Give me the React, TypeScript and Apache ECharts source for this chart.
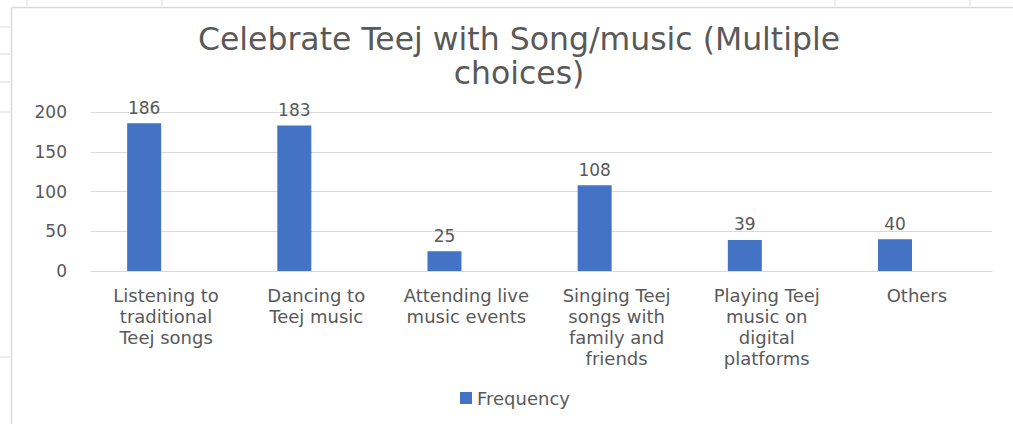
import React, { useEffect, useRef } from "react";
import * as echarts from "echarts";

const titleText = "Celebrate Teej with Song/music (Multiple\nchoices)";
const categories = [
  "Listening to\ntraditional\nTeej songs",
  "Dancing to\nTeej music",
  "Attending live\nmusic events",
  "Singing Teej\nsongs with\nfamily and\nfriends",
  "Playing Teej\nmusic on\ndigital\nplatforms",
  "Others",
];
const frequency = [186, 183, 25, 108, 39, 40];
const yTicks = { min: 0, max: 200, interval: 50 };

const FONT = "DejaVu Sans";
const TXT = "#595959";

export default function App() {
  const ref = useRef<HTMLDivElement>(null);
  useEffect(() => {
    if (!ref.current) return;
    const chart = echarts.init(ref.current, undefined, { renderer: "svg" });
    const stubs: any[] = [];
    [27, 54, 82, 112, 357].forEach((y) =>
      stubs.push({ type: "line", shape: { x1: 0, y1: y, x2: 10, y2: y }, style: { stroke: "#dcdcdc", lineWidth: 1 } })
    );
    [27, 162, 835, 970].forEach((x) =>
      stubs.push({ type: "line", shape: { x1: x, y1: 0, x2: x, y2: 6 }, style: { stroke: "#dcdcdc", lineWidth: 1 } })
    );
    chart.setOption({
      animation: false,
      backgroundColor: "#ffffff",
      textStyle: { fontFamily: FONT },
      graphic: [
        ...stubs,
        { type: "line", shape: { x1: 11.5, y1: 7.5, x2: 1013, y2: 7.5 }, style: { stroke: "#d9d9d9", lineWidth: 1.5 } },
        { type: "line", shape: { x1: 11.5, y1: 7.5, x2: 11.5, y2: 424 }, style: { stroke: "#d9d9d9", lineWidth: 1.5 } },
      ],
      title: {
        text: titleText,
        left: 514,
        top: 17,
        textAlign: "center",
        textStyle: { fontFamily: FONT, fontSize: 31.5, fontWeight: "normal", color: TXT, lineHeight: 34 },
      },
      legend: {
        data: ["Frequency"],
        left: 455,
        top: 384,
        icon: "rect",
        itemWidth: 12,
        itemHeight: 12,
        itemGap: 8,
        textStyle: { fontFamily: FONT, fontSize: 18, color: TXT },
      },
      grid: { left: 91, right: 21, top: 112, bottom: 153, containLabel: false },
      xAxis: {
        type: "category",
        data: categories,
        axisLine: { lineStyle: { color: "#d9d9d9", width: 1 } },
        axisTick: { show: false },
        axisLabel: { interval: 0, fontFamily: FONT, fontSize: 18, color: TXT, lineHeight: 21, margin: 14 },
      },
      yAxis: {
        type: "value",
        min: yTicks.min,
        max: yTicks.max,
        interval: yTicks.interval,
        axisLine: { show: false },
        axisTick: { show: false },
        splitLine: { lineStyle: { color: "#d9d9d9", width: 1 } },
        axisLabel: { fontFamily: FONT, fontSize: 17, color: TXT, margin: 24 },
      },
      series: [
        {
          name: "Frequency",
          type: "bar",
          data: frequency,
          barWidth: 34,
          barGap: "29%",
          itemStyle: { color: "#4472C4" },
          label: { show: true, position: "top", distance: 7, fontFamily: FONT, fontSize: 17, color: TXT },
        },
        {
          name: "_spacer",
          type: "bar",
          data: frequency.map(() => null),
          barWidth: 34,
          itemStyle: { color: "transparent" },
        },
      ],
    });
    return () => chart.dispose();
  }, []);
  return (
    <div
      ref={ref}
      style={{ position: "fixed", left: 0, top: 0, width: 1013, height: 424 }}
    />
  );
}
